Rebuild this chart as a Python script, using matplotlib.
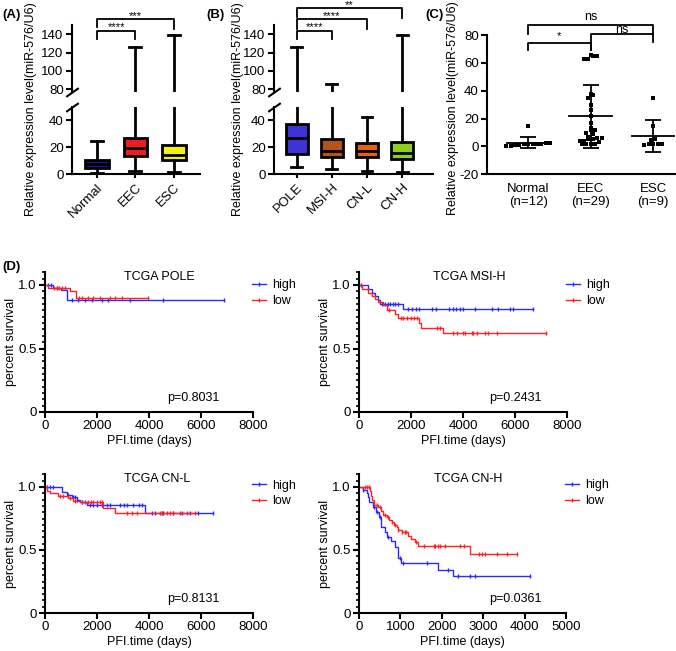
import numpy as np
import matplotlib.pyplot as plt
from matplotlib.lines import Line2D
from matplotlib.ticker import MultipleLocator

plt.rcParams['font.family'] = ['Liberation Sans', 'DejaVu Sans']
plt.rcParams['font.size'] = 9
plt.rcParams['axes.unicode_minus'] = False

# (A) box plot: tumour type
groups_a = ['Normal', 'EEC', 'ESC']
lo_a = [1.3, 2.7, 2.0]
q1_a = [5.0, 13.5, 10.3]
med_a = [8.0, 19.6, 14.2]
q3_a = [10.4, 27.2, 22.0]
hi_a = [24.4, 125.5, 139.5]
colors_a = ['#1c1c96', '#ec1c24', '#f8f014']

# (B) box plot: TCGA subtypes
groups_b = ['POLE', 'MSI-H', 'CN-L', 'CN-H']
lo_b = [5.6, 3.9, 2.7, 1.9]
q1_b = [15.2, 12.7, 13.0, 11.3]
med_b = [27.0, 17.6, 17.6, 15.9]
q3_b = [37.0, 26.5, 23.3, 24.0]
hi_b = [125.5, 86.0, 42.4, 139.5]
colors_b = ['#3d33d6', '#b45416', '#e2621c', '#8ecf1e']

# (C) scatter
groups_c = ['Normal\n(n=12)', 'EEC\n(n=29)', 'ESC\n(n=9)']
c_normal = [15.0, 2.5, 2.2, 2.0, 2.0, 1.8, 1.5, 1.5, 1.2, 1.0, 0.6, 0.5]
c_eec = [66, 65, 65, 63, 63, 38, 37, 35, 30, 26, 22, 17, 13, 12, 12, 10, 9,
         7, 6, 6, 5, 5, 4, 4, 3, 2, 2, 2, 1.5]
c_esc = [35, 15, 5, 4.5, 2, 2, 1.5, 1.5, 1]

# (D) Kaplan-Meier: step times, survival after step, censor times
pole_high_t = [300, 600, 850]
pole_high_s = [0.98, 0.96, 0.88]
pole_high_c = [120, 230, 450, 1050, 1270, 1540, 1810, 2190, 2420, 3270, 4540, 6880]
pole_low_t = [130, 960, 1200]
pole_low_s = [0.98, 0.95, 0.90]
pole_low_c = [350, 450, 550, 650, 750, 1300, 1420, 1650, 1850, 2120, 2500, 2690, 2960, 3960]

msi_high_t = [350, 500, 620, 730, 810, 1690]
msi_high_s = [0.97, 0.94, 0.91, 0.88, 0.85, 0.81]
msi_high_c = [60, 900, 1000, 1100, 1200, 1300, 1400, 1500, 1870, 2030, 2190, 2320, 2800,
              2960, 3470, 3600, 3730, 3880, 4010, 4460, 5100, 5360, 5810, 5910, 6700]
msi_low_t = [130, 350, 500, 620, 730, 920, 1080, 1380, 1500, 2310, 2380, 3230]
msi_low_s = [0.97, 0.94, 0.91, 0.89, 0.87, 0.84, 0.80, 0.77, 0.74, 0.70, 0.66, 0.62]
msi_low_c = [1150, 1620, 1700, 1860, 1990, 2120, 2240, 2990, 3120, 3630, 3760, 4010,
             4080, 4330, 4400, 4530, 4850, 4970, 5300, 7200]

cnl_high_t = [640, 830, 1030, 1220, 1350, 1630, 3850]
cnl_high_s = [0.96, 0.94, 0.92, 0.90, 0.88, 0.86, 0.79]
cnl_high_c = [65, 190, 295, 900, 1065, 1150, 1240, 1410, 1540, 1730, 1860, 1990, 2180,
              2370, 2500, 2890, 3020, 3150, 3400, 3630, 3720, 4100, 4230, 4490, 4550,
              4940, 5260, 5580, 5900, 6470]
cnl_low_t = [65, 190, 510, 900, 1090, 1350, 2240, 2690]
cnl_low_s = [0.97, 0.95, 0.93, 0.91, 0.89, 0.88, 0.83, 0.79]
cnl_low_c = [580, 700, 960, 1150, 1410, 1670, 1760, 1860, 1990, 2120, 2180, 3150, 3340,
             3530, 4420, 4490, 4680, 4810, 4940, 5190, 5450, 5770]

cnh_high_t = [105, 185, 225, 250, 340, 420, 490, 520, 540, 620, 670, 780, 860, 950,
              1010, 1920, 2280]
cnh_high_s = [0.98, 0.95, 0.92, 0.88, 0.84, 0.80, 0.76, 0.72, 0.68, 0.64, 0.60, 0.57,
              0.52, 0.44, 0.40, 0.34, 0.29]
cnh_high_c = [105, 360, 430, 510, 710, 990, 1070, 1640, 2160, 2400, 2680, 2800, 4130]
cnh_low_t = [260, 300, 325, 365, 460, 540, 580, 670, 730, 790, 840, 910, 950, 1030,
             1190, 1250, 1350, 1430, 2680]
cnh_low_s = [0.97, 0.93, 0.90, 0.86, 0.84, 0.81, 0.78, 0.76, 0.74, 0.72, 0.70, 0.68,
             0.66, 0.64, 0.61, 0.59, 0.56, 0.53, 0.47]
cnh_low_c = [140, 195, 250, 430, 510, 630, 710, 790, 870, 950, 1030, 1110, 1130, 1380,
             1570, 1800, 1840, 1900, 1960, 2080, 2440, 2540, 2890, 2970, 3050, 3330,
             3570, 3810]

W, H = 676, 651
fig = plt.figure(figsize=(W / 100, H / 100), dpi=100)


def px_axes(x0, y0, x1, y1):
    # box in pixels, measured from the top left corner
    return fig.add_axes([x0 / W, 1 - y1 / H, (x1 - x0) / W, (y1 - y0) / H])


def style(ax, lw=1.5):
    for s in ['top', 'right']:
        ax.spines[s].set_visible(False)
    for s in ['left', 'bottom']:
        ax.spines[s].set_linewidth(lw)
    ax.tick_params(width=lw, length=4, labelsize=9.5, pad=2)


def bracket(ax, x1, x2, y, d1, d2, label, dy=4, fs=8):
    ax.plot([x1, x1, x2, x2], [d1, y, y, d2], color='k', lw=1.3, clip_on=False)
    ax.text((x1 + x2) / 2, y + dy, label, ha='center', va='center', fontsize=fs,
            clip_on=False)


def broken_box(x0, x1, names, lo, q1, med, q3, hi, colors, right):
    top = px_axes(x0, 25, x1, 92)
    bot = px_axes(x0, 107, x1, 174.3)
    stats = [dict(whislo=a, q1=b, med=c, q3=d, whishi=e, fliers=[])
             for a, b, c, d, e in zip(lo, q1, med, q3, hi)]
    for ax in (top, bot):
        bp = ax.bxp(stats, positions=range(len(names)), widths=0.62, patch_artist=True,
                    showfliers=False,
                    boxprops=dict(linewidth=2),
                    medianprops=dict(color='k', linewidth=2),
                    whiskerprops=dict(linewidth=2),
                    capprops=dict(linewidth=2))
        for patch, col in zip(bp['boxes'], colors):
            patch.set_facecolor(col)
        ax.set_xlim(-0.65, len(names) - 1 + right)
        style(ax)
    top.set_ylim(77, 150)
    top.set_yticks([80, 100, 120, 140])
    top.spines['bottom'].set_visible(False)
    top.tick_params(axis='x', bottom=False, labelbottom=False)
    bot.set_ylim(0, 50)
    bot.set_yticks([0, 20, 40])
    bot.set_xticks(range(len(names)))
    bot.set_xticklabels(names, rotation=45, ha='right', rotation_mode='anchor')
    bot.tick_params(axis='x', length=3, pad=2)
    # break marks
    mk = [(-1, -0.7), (1, 0.7)]
    top.plot([0], [0], transform=top.transAxes, marker=mk, ms=9, mew=1.5, color='k',
             clip_on=False)
    bot.plot([0], [1], transform=bot.transAxes, marker=mk, ms=9, mew=1.5, color='k',
             clip_on=False)
    return top, bot


# panel A
top_a, bot_a = broken_box(72, 200, groups_a, lo_a, q1_a, med_a, q3_a, hi_a, colors_a, 0.68)
bracket(top_a, 0, 1, 143.8, 135, 135, '****')
bracket(top_a, 0, 2, 156.2, 147.5, 145.5, '***')

# panel B
top_b, bot_b = broken_box(274, 433, groups_b, lo_b, q1_b, med_b, q3_b, hi_b, colors_b, 0.88)
bracket(top_b, 0, 3, 168, 159, 158, '**')
bracket(top_b, 0, 2, 156.2, 146, 146, '****')
bracket(top_b, 0, 1, 143.8, 135, 135, '****')

ylab = 'Relative expression level(miR-576/U6)'
fig.text(31 / W, 1 - 109 / H, ylab, rotation=90, ha='center', va='center', fontsize=9)
fig.text(238 / W, 1 - 109 / H, ylab, rotation=90, ha='center', va='center', fontsize=9)

# panel C
ax_c = px_axes(487, 35, 675, 174.3)
style(ax_c)


def swarm(vals, step=2.5, dx=0.07):
    vals = np.sort(np.asarray(vals, float))
    offs = np.zeros(len(vals))
    i = 0
    while i < len(vals):
        j = i
        while j < len(vals) and vals[j] - vals[i] < step:
            j += 1
        n = j - i
        offs[i:j] = (np.arange(n) - (n - 1) / 2) * dx
        i = j
    return vals, offs


for k, vals in enumerate([c_normal, c_eec, c_esc]):
    v, o = swarm(vals)
    ax_c.scatter(k + o, v, s=7, marker='s', color='k', linewidths=0, zorder=3)
    m = np.mean(vals)
    sd = np.std(vals, ddof=1)
    ax_c.plot([k - 0.34, k + 0.34], [m, m], color='k', lw=1.3)
    ax_c.errorbar([k], [m], yerr=[sd], color='k', lw=1.3, capsize=6, capthick=1.3)

ax_c.set_xlim(-0.66, 2.35)
ax_c.set_ylim(-20, 80)
ax_c.set_yticks([-20, 0, 20, 40, 60, 80])
ax_c.set_xticks(range(3))
ax_c.set_xticklabels(groups_c)
ax_c.tick_params(axis='x', length=0, pad=6)
bracket(ax_c, 0, 2, 87.2, 81, 81, 'ns', dy=5.5, fs=9)
bracket(ax_c, 1, 2, 80.8, 69, 75, '', dy=0)
ax_c.text(1.5, 83.5, 'ns', ha='center', va='center', fontsize=9)
bracket(ax_c, 0, 1, 74.5, 69, 69, '*', dy=5, fs=8)
fig.text(453 / W, 1 - 108 / H, ylab, rotation=90, ha='center', va='center', fontsize=9)

# panel letters
for lab, x, y in [('(A)', 2, 15), ('(B)', 206, 15), ('(C)', 425, 15), ('(D)', 2, 267)]:
    fig.text(x / W, 1 - y / H, lab, fontweight='bold', fontsize=9.5, va='center')


# panel D
def km_curve(ax, t, s, cens, color):
    t = np.asarray(t, float)
    s = np.asarray(s, float)
    cens = np.asarray(cens, float)
    end = cens.max()
    xs = np.concatenate([[0], t, [end]])
    ys = np.concatenate([[1.0], s, [s[-1]]])
    ax.step(xs, ys, where='post', color=color, lw=1)
    cy = np.concatenate([[1.0], s])[np.searchsorted(t, cens, side='right')]
    ax.plot(cens, cy, ls='none', marker='|', ms=3.5, mew=1, color=color)


blue, red = '#2a2aff', '#ff2222'
km_specs = [
    ((45, 272.3, 253, 412), 8000, 'TCGA POLE', 0.55, 'p=0.8031', 0.84, 0.85,
     (pole_high_t, pole_high_s, pole_high_c), (pole_low_t, pole_low_s, pole_low_c)),
    ((359, 272.3, 567, 412), 8000, 'TCGA MSI-H', 0.53, 'p=0.2431', 0.88, 0.85,
     (msi_high_t, msi_high_s, msi_high_c), (msi_low_t, msi_low_s, msi_low_c)),
    ((45, 474.4, 253, 613), 8000, 'TCGA CN-L', 0.54, 'p=0.8131', 0.84, 0.862,
     (cnl_high_t, cnl_high_s, cnl_high_c), (cnl_low_t, cnl_low_s, cnl_low_c)),
    ((359, 474.4, 566, 613), 5000, 'TCGA CN-H', 0.527, 'p=0.0361', 0.884, 0.865,
     (cnh_high_t, cnh_high_s, cnh_high_c), (cnh_low_t, cnh_low_s, cnh_low_c)),
]

for box, xmax, title, tx, ptxt, px, ly, high, low in km_specs:
    ax = px_axes(*box)
    style(ax)
    km_curve(ax, *high, blue)
    km_curve(ax, *low, red)
    ax.set_xlim(0, xmax)
    ax.set_ylim(0, 1.1)
    ax.set_xticks(np.linspace(0, xmax, 5 if xmax == 8000 else 6))
    ax.set_yticks([0, 0.5, 1.0])
    ax.set_yticklabels(['0', '0.5', '1.0'])
    ax.yaxis.set_minor_locator(MultipleLocator(0.05))
    ax.tick_params(axis='y', which='minor', length=2.5, width=1.2)
    ax.set_xlabel('PFI.time (days)', fontsize=9, labelpad=2)
    ax.set_ylabel('percent survival', fontsize=9, labelpad=1)
    ax.text(tx, 1.06, title, transform=ax.get_yaxis_transform(), ha='center',
            va='center', fontsize=9)
    ax.text(px, 0.11, ptxt, transform=ax.get_yaxis_transform(), ha='right',
            va='center', fontsize=9)
    handles = [Line2D([], [], color=blue, lw=1, marker='|', ms=3.5),
               Line2D([], [], color=red, lw=1, marker='|', ms=3.5)]
    ax.legend(handles, ['high', 'low'], loc='center left', bbox_to_anchor=(0.995, ly),
              frameon=False, fontsize=9, handlelength=1.1, handletextpad=0.55,
              labelspacing=0.3, borderpad=0, borderaxespad=0)

fig.savefig('out.png', dpi=100)
